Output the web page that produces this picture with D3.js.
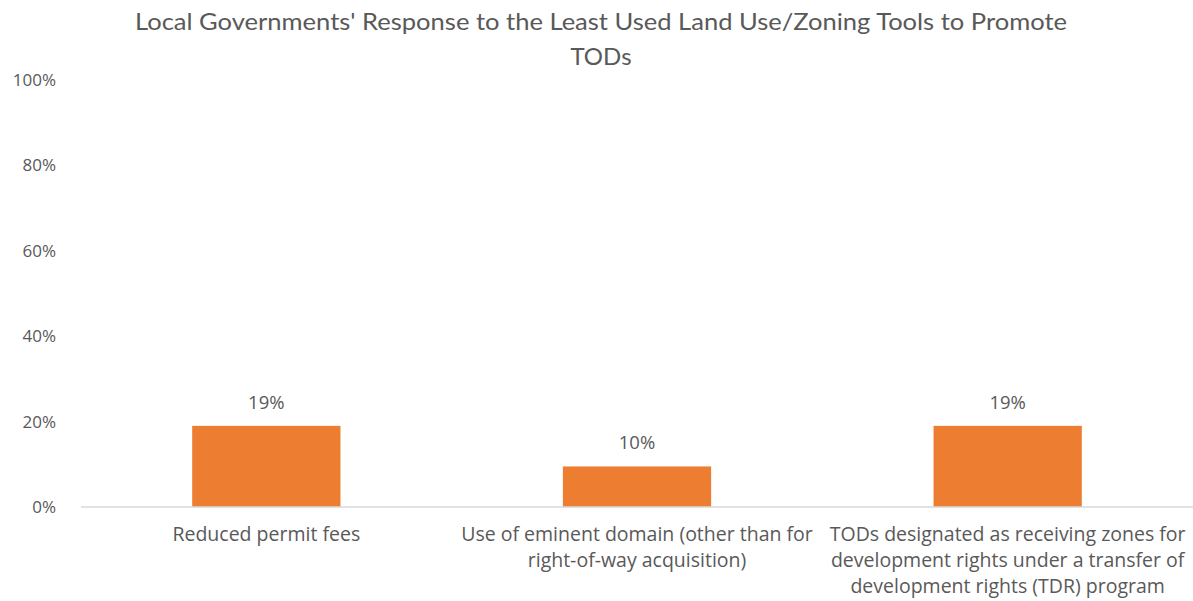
<!DOCTYPE html>
<html>
<head>
    <meta charset="utf-8" />
    <title>Least Used Land Use/Zoning Tools</title>
    <script src="https://d3js.org/d3.v7.min.js"></script>
    <style>
        body { margin: 0; background: #fff; }
        text { font-family: "Open Sans", Lato, sans-serif; fill: #595959; }
    </style>
</head>
<body>
    <svg id="chart"></svg>
    <script>
        // data
        var categories = [
            ['Reduced permit fees'],
            ['Use of eminent domain (other than for', 'right-of-way acquisition)'],
            ['TODs designated as receiving zones for', 'development rights under a transfer of', 'development rights (TDR) program']
        ]
        var values = [0.19, 0.095, 0.19]
        var labels = ['19%', '10%', '19%']
        var yTicks = [0, 0.2, 0.4, 0.6, 0.8, 1.0]
        var titleLines = ["Local Governments' Response to the Least Used Land Use/Zoning Tools to Promote", 'TODs']

        var W = 1193, H = 601
        var plotLeft = 81, plotRight = 1193, plotTop = 80, plotBottom = 507

        var svg = d3.select('#chart').attr('width', W).attr('height', H)

        var x = d3.scaleBand()
            .domain(d3.range(categories.length))
            .range([plotLeft, plotRight])
            .paddingInner(0.6)
            .paddingOuter(0.3)

        var y = d3.scaleLinear().domain([0, 1]).range([plotBottom, plotTop])

        // title
        svg.append('g').selectAll('text')
            .data(titleLines)
            .join('text')
            .attr('x', 601)
            .attr('y', (d, i) => 30 + i * 35)
            .attr('text-anchor', 'middle')
            .style('font-family', 'Lato, sans-serif')
            .style('font-size', '24px')
            .each(function (d, i) {
                if (i == 0) d3.select(this).attr('textLength', 932).attr('lengthAdjust', 'spacingAndGlyphs')
            })
            .text(d => d)

        // y axis labels (no line, no ticks)
        var yAxis = svg.append('g')
            .attr('transform', `translate(${plotLeft},0)`)
            .call(d3.axisLeft(y).tickValues(yTicks).tickFormat(d3.format('.0%')).tickSize(0).tickPadding(25))
        yAxis.select('.domain').remove()
        yAxis.selectAll('text').style('font-size', '17px').attr('fill', null)

        // bars
        svg.append('g').selectAll('rect')
            .data(values)
            .join('rect')
            .attr('x', (d, i) => x(i))
            .attr('width', x.bandwidth())
            .attr('y', d => y(d))
            .attr('height', d => plotBottom - y(d))
            .attr('fill', '#ED7D31')

        // baseline
        svg.append('line')
            .attr('x1', plotLeft).attr('x2', plotRight)
            .attr('y1', plotBottom).attr('y2', plotBottom)
            .attr('stroke', '#d9d9d9').attr('stroke-width', 1.5)

        // data labels
        svg.append('g').selectAll('text')
            .data(values)
            .join('text')
            .attr('x', (d, i) => x(i) + x.bandwidth() / 2)
            .attr('y', d => y(d) - 17)
            .attr('text-anchor', 'middle')
            .style('font-size', '18.5px')
            .text((d, i) => labels[i])

        // category labels
        var cat = svg.append('g').selectAll('text')
            .data(categories)
            .join('text')
            .attr('text-anchor', 'middle')
            .style('font-size', '19.5px')
        cat.selectAll('tspan')
            .data((d, i) => d.map(s => ({ s: s, i: i })))
            .join('tspan')
            .attr('x', d => x(d.i) + x.bandwidth() / 2)
            .attr('y', (d, j) => 541 + j * 26)
            .text(d => d.s)
    </script>
</body>
</html>
